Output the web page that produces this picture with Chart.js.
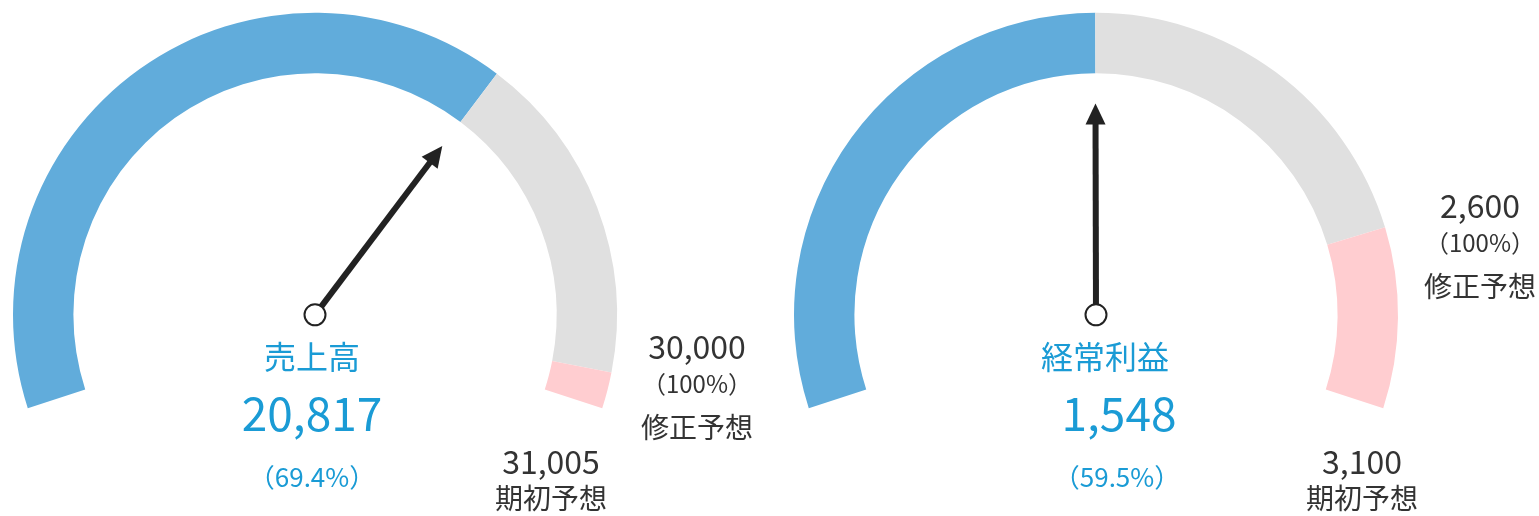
<!DOCTYPE html>
<html>
<head>
<meta charset="utf-8">
<title>gauge</title>
<script src="https://cdn.jsdelivr.net/npm/chart.js@4.4.0/dist/chart.umd.min.js"></script>
<style>
  html, body { margin: 0; padding: 0; background: #fff; overflow: hidden; }
  .gauge { position: absolute; top: 0; height: 516px; }
  #box1 { left: 0; width: 770px; }
  #box2 { left: 770px; width: 769px; }
</style>
</head>
<body>
<div class="gauge" id="box1"><canvas id="sales"></canvas></div>
<div class="gauge" id="box2"><canvas id="profit"></canvas></div>

<script>
// values
const titles = ["売上高", "経常利益"];
const actual = [20817, 1548];
const revised = [30000, 2600];     // 修正予想
const initial = [31005, 3100];     // 期初予想
const revisedName = "修正予想";
const initialName = "期初予想";

const BLUE_TEXT = "#1a9bd5";
const DARK = "#333333";
const FONT = "'Noto Sans CJK JP', 'Noto Sans', sans-serif";

function fmt(n) { return n.toLocaleString("en-US"); }

// where the text sits, relative to the needle pivot
const layouts = [
  { titleDx: -3, valueDx: -3, pctDx: -3, revDx: 382, revDy: 68, iniDx: 236, iniDy: 147, padRight: 140 },
  { titleDx: 9, valueDx: 23, pctDx: 21, revDx: 384, revDy: -73, iniDx: 266, iniDy: 147, padRight: 117 }
];

// needle + labels
const gaugeDecor = {
  id: "gaugeDecor",
  afterDraw(chart, args, opts) {
    const i = opts.index;
    const lay = layouts[i];
    const meta = chart.getDatasetMeta(0);
    const a0 = meta.data[0];
    const cx = a0.x, cy = a0.y;
    const ctx = chart.ctx;

    // needle follows the end of the "actual" slice
    const ang = a0.endAngle;
    const len = a0.outerRadius * 0.70;
    const head = 21, half = 10;
    const ux = Math.cos(ang), uy = Math.sin(ang);
    ctx.save();
    ctx.strokeStyle = "#222";
    ctx.fillStyle = "#222";
    ctx.lineWidth = 6;
    ctx.beginPath();
    ctx.moveTo(cx + ux * 10, cy + uy * 10);
    ctx.lineTo(cx + ux * (len - head + 2), cy + uy * (len - head + 2));
    ctx.stroke();
    const bx = cx + ux * (len - head), by = cy + uy * (len - head);
    ctx.beginPath();
    ctx.moveTo(cx + ux * len, cy + uy * len);
    ctx.lineTo(bx - uy * half, by + ux * half);
    ctx.lineTo(bx + uy * half, by - ux * half);
    ctx.closePath();
    ctx.fill();
    ctx.beginPath();
    ctx.arc(cx, cy, 10.5, 0, Math.PI * 2);
    ctx.fillStyle = "#fff";
    ctx.fill();
    ctx.lineWidth = 2;
    ctx.stroke();

    ctx.textAlign = "center";
    ctx.textBaseline = "middle";

    // centre labels
    ctx.fillStyle = BLUE_TEXT;
    ctx.font = "32px " + FONT;
    ctx.fillText(titles[i], cx + lay.titleDx, cy + 42);
    ctx.font = "46px " + FONT;
    ctx.fillText(fmt(actual[i]), cx + lay.valueDx, cy + 99);
    ctx.font = "26px " + FONT;
    const pct = (actual[i] / revised[i] * 100).toFixed(1);
    ctx.fillText("（" + pct + "%）", cx + lay.pctDx, cy + 162);

    // revised forecast
    ctx.fillStyle = DARK;
    const rx = cx + lay.revDx, ry = cy + lay.revDy;
    ctx.font = "32px " + FONT;
    ctx.fillText(fmt(revised[i]), rx, ry - 36);
    ctx.font = "24px " + FONT;
    ctx.fillText("（100%）", rx, ry + 1);
    ctx.font = "28px " + FONT;
    ctx.fillText(revisedName, rx, ry + 45);

    // initial forecast
    const ix = cx + lay.iniDx, iy = cy + lay.iniDy;
    ctx.font = "32px " + FONT;
    ctx.fillText(fmt(initial[i]), ix, iy);
    ctx.font = "28px " + FONT;
    ctx.fillText(initialName, ix, iy + 37);
    ctx.restore();
  }
};

function makeGauge(canvasId, i) {
  return new Chart(document.getElementById(canvasId), {
    type: "doughnut",
    data: {
      labels: ["実績", revisedName, initialName],
      datasets: [{
        data: [actual[i], revised[i] - actual[i], initial[i] - revised[i]],
        backgroundColor: ["#61acdb", "#e0e0e0", "#ffcdd0"],
        borderWidth: 0
      }]
    },
    options: {
      responsive: true,
      maintainAspectRatio: false,
      animation: false,
      rotation: -108,
      circumference: 216,
      cutout: "80%",
      radius: 302,
      layout: { padding: { left: 0, right: layouts[i].padRight, top: 0, bottom: 95 } },
      plugins: {
        legend: { display: false },
        tooltip: { enabled: false },
        gaugeDecor: { index: i }
      }
    },
    plugins: [gaugeDecor]
  });
}

makeGauge("sales", 0);
makeGauge("profit", 1);
</script>
</body>
</html>
